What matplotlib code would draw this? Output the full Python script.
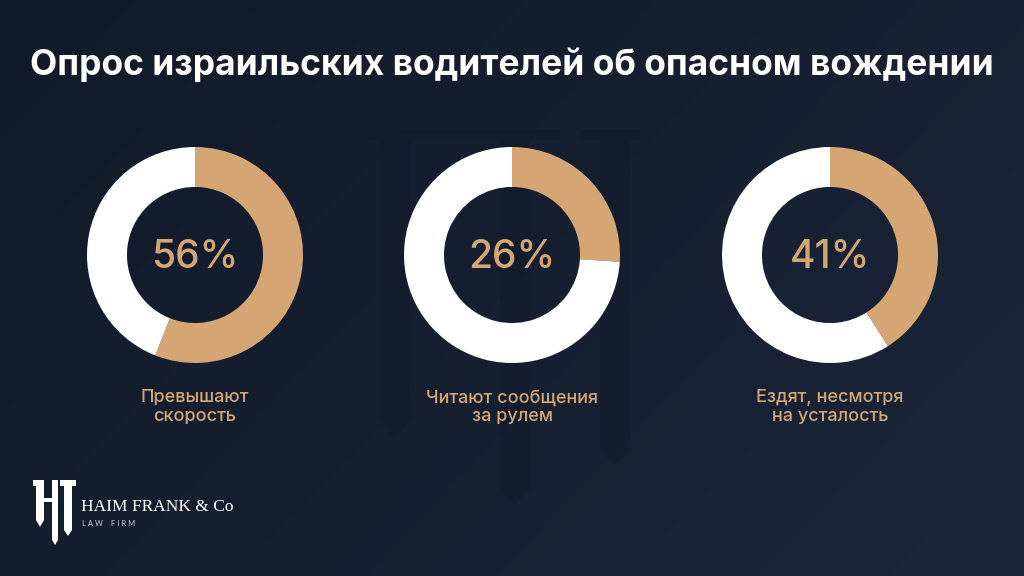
import numpy as np
import matplotlib
matplotlib.use("Agg")
import matplotlib.pyplot as plt
from matplotlib.patches import Polygon
from matplotlib.colors import LinearSegmentedColormap

title = "Опрос израильских водителей об опасном вождении"
categories = ["Превышают\nскорость", "Читают сообщения\nза рулем", "Ездят, несмотря\nна усталость"]
values = [56, 26, 41]

BG_DARK = "#111a29"
BG_LIGHT = "#1b2639"
TAN = "#d6a574"
WHITE = "#ffffff"

W, H = 1024, 576
fig = plt.figure(figsize=(W / 100, H / 100), dpi=100)

# background gradient
bg = fig.add_axes([0, 0, 1, 1])
yy, xx = np.mgrid[0:1:200j, 0:1:360j]
grad = 0.65 * xx + 0.35 * (1 - yy)
cmap = LinearSegmentedColormap.from_list("bg", [BG_DARK, BG_LIGHT])
bg.imshow(grad, cmap=cmap, extent=[0, W, 0, H], origin="upper", aspect="auto")
bg.set_xlim(0, W)
bg.set_ylim(H, 0)
bg.axis("off")

# very faint watermark mark in the middle
wm = dict(facecolor="#0c1320", edgecolor="none", alpha=0.18, zorder=1)
bg.add_patch(Polygon([[368, 130], [560, 130], [560, 140], [368, 140]], **wm))
bg.add_patch(Polygon([[380, 140], [410, 140], [410, 420], [395, 440], [380, 420]], **wm))
bg.add_patch(Polygon([[500, 140], [530, 140], [530, 490], [515, 505], [500, 490]], **wm))
bg.add_patch(Polygon([[580, 130], [640, 130], [640, 140], [580, 140]], **wm))
bg.add_patch(Polygon([[600, 140], [630, 140], [630, 450], [615, 465], [600, 450]], **wm))

# logo mark
lm = dict(facecolor=WHITE, edgecolor="none", zorder=3)
bg.add_patch(Polygon([[33, 480], [44, 480], [44, 520], [40, 527], [36, 520], [36, 486], [33, 486]], **lm))
bg.add_patch(Polygon([[44, 498], [56, 498], [56, 502], [44, 502]], **lm))
bg.add_patch(Polygon([[52, 480], [58, 480], [58, 540], [55, 545], [52, 540]], **lm))
bg.add_patch(Polygon([[60, 480], [76, 480], [76, 486], [72, 486], [72, 530], [68, 536], [64, 530], [64, 486], [60, 486]], **lm))
bg.text(81, 507, "HAIM FRANK & Co", color=WHITE, fontsize=12.5, family="Liberation Serif",
        va="center", ha="left", zorder=3)
bg.text(82, 524, "L A W    F I R M", color="#c8ccd4", fontsize=5.5, family="Lato",
        va="center", ha="left", zorder=3)

# title
bg.text(W / 2, 65, title, color=WHITE, fontsize=25.5, family="Inter", weight="bold",
        ha="center", va="center", zorder=3)

centers_x = [195, 512, 830]
cy = 255
R = 108
for cx, v, lab in zip(centers_x, values, categories):
    ax = fig.add_axes([(cx - R) / W, 1 - (cy + R) / H, 2 * R / W, 2 * R / H])
    ax.pie([v, 100 - v], colors=[TAN, WHITE], startangle=90, counterclock=False,
           radius=1.0, wedgeprops=dict(width=0.37, edgecolor="none", linewidth=0))
    ax.set_xlim(-1, 1)
    ax.set_ylim(-1, 1)
    ax.set_aspect("equal")
    ax.axis("off")
    bg.text(cx, cy + 2, f"{v}%", color=TAN, fontsize=28, family="Inter", weight="medium",
            ha="center", va="center", zorder=3)
    bg.text(cx, 407, lab, color=TAN, fontsize=13, family="Inter", weight="medium",
            ha="center", va="center", linespacing=1.1, zorder=3)

fig.savefig("out.png", dpi=100)
